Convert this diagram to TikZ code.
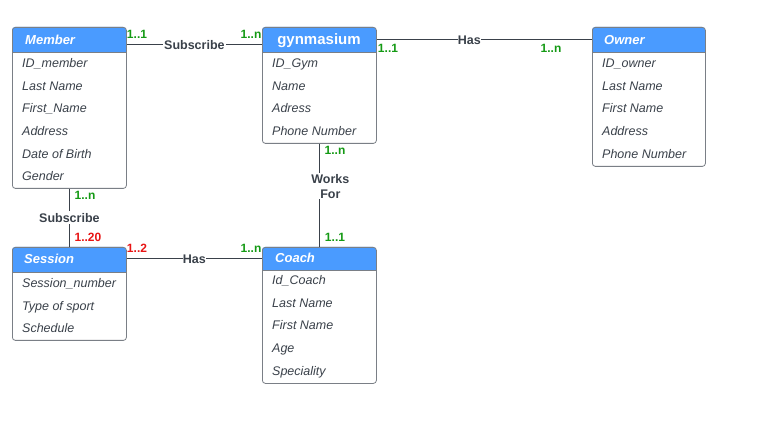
\documentclass[tikz,border=0pt]{standalone}
\usepackage{fontspec}
\setmainfont{Liberation Sans}
\definecolor{hdr}{HTML}{4A9BFF}
\definecolor{txt}{HTML}{3A414A}
\definecolor{bord}{HTML}{7A7F86}
\definecolor{grn}{HTML}{149A14}
\definecolor{rd}{HTML}{E81414}
\tikzset{
  ebox/.style={draw=bord, line width=0.8pt, rounded corners=3pt, anchor=north west, inner sep=0pt},
  attr/.style={anchor=west, text=txt, font=\fontsize{12.5}{14}\selectfont\itshape, inner sep=0pt, text height=9pt, text depth=0pt},
  title/.style={anchor=west, text=white, font=\fontsize{13}{15}\selectfont\bfseries\itshape, inner sep=0pt, text height=9.4pt, text depth=0pt},
  rel/.style={fill=white, text=txt, font=\fontsize{12.5}{14}\selectfont\bfseries, inner sep=1pt, align=center},
  card/.style={font=\fontsize{12}{14}\selectfont\bfseries, inner sep=0pt, text height=8.6pt, text depth=0pt},
  conn/.style={draw=txt, line width=1pt},
}
\newcommand{\entity}[8]{%
  % #1 name, #2 x, #3 y, #4 w, #5 h, #6 header h, #7 first row offset, #8 rows
  \fill[hdr] (#2,-#3-#6) [rounded corners=3pt] -- (#2,-#3) -- (#2+#4,-#3) [sharp corners] -- (#2+#4,-#3-#6) -- cycle;
  \draw[bord, line width=0.8pt] (#2,-#3-#6) -- (#2+#4,-#3-#6);
  \node[ebox, minimum width=#4, minimum height=#5] (#1) at (#2,-#3) {};
  \foreach \r [count=\i from 0] in {#8} {
    \node[attr] (#1-r\i) at (#2+10,-#3-#7-\i*22.7) {\r};
  }
}
\begin{document}
\begin{tikzpicture}[x=1pt,y=1pt]
\useasboundingbox (0,0) rectangle (761,-422);
\fill[white] (0,0) rectangle (761,-422);

\entity{member}{12}{27}{114}{161}{25}{36}{ID\_member,Last Name,First\_Name,Address,Date of Birth,Gender}
\node[title] (member-t) at (25,-39.5) {Member};

\entity{gym}{262}{27}{114}{116}{25}{36}{ID\_Gym,Name,Adress,Phone Number}
\node[anchor=center, text=white, font=\fontsize{15}{17}\selectfont\bfseries, inner sep=0pt, text height=11pt, text depth=0pt] (gym-t) at (319,-39) {gynmasium};

\entity{owner}{592}{27}{113}{139}{25}{36}{ID\_owner,Last Name,First Name,Address,Phone Number}
\node[title] (owner-t) at (604,-39.5) {Owner};

\entity{session}{12}{247}{114}{93}{25}{36}{Session\_number,Type of sport,Schedule}
\node[title] (session-t) at (24,-259) {Session};

\entity{coach}{262}{247}{114}{136}{23}{33}{Id\_Coach,Last Name,First Name,Age,Speciality}
\node[title] (coach-t) at (275,-257.5) {Coach};

% Member -- gym
\draw[conn] ([yshift=-18pt]member.north east) -- node[rel] (r1) {Subscribe} ([yshift=-18pt]gym.north west);
\node[card, text=grn] (c1a) at (137,-34) {1..1};
\node[card, text=grn] (c1b) at (251,-34) {1..n};

% gym -- owner
\draw[conn] ([yshift=-13pt]gym.north east) -- node[rel, pos=0.43, inner sep=0pt] (r2) {Has} ([yshift=-13pt]owner.north west);
\node[card, text=grn] (c2a) at (388,-48) {1..1};
\node[card, text=grn] (c2b) at (551,-48) {1..n};

% member -- session
\draw[conn] (member.south) -- node[rel, inner sep=2pt] (r3) {Subscribe} (session.north);
\node[card, text=grn] (c3a) at (85,-195) {1..n};
\node[card, text=rd] (c3b) at (88,-237) {1..20};

% gym -- coach
\draw[conn] (gym.south) -- node[rel, pos=0.41, xshift=11pt, inner sep=1pt, font=\fontsize{12.5}{15}\selectfont\bfseries] (r4) {Works\\For} (coach.north);
\node[card, text=grn] (c4a) at (335,-150) {1..n};
\node[card, text=grn] (c4b) at (335,-237) {1..1};

% session -- coach
\draw[conn] ([yshift=-12pt]session.north east) -- node[rel, inner sep=0pt] (r5) {Has} ([yshift=-12pt]coach.north west);
\node[card, text=rd] (c5a) at (137,-248) {1..2};
\node[card, text=grn] (c5b) at (251,-248) {1..n};
\end{tikzpicture}
\end{document}
